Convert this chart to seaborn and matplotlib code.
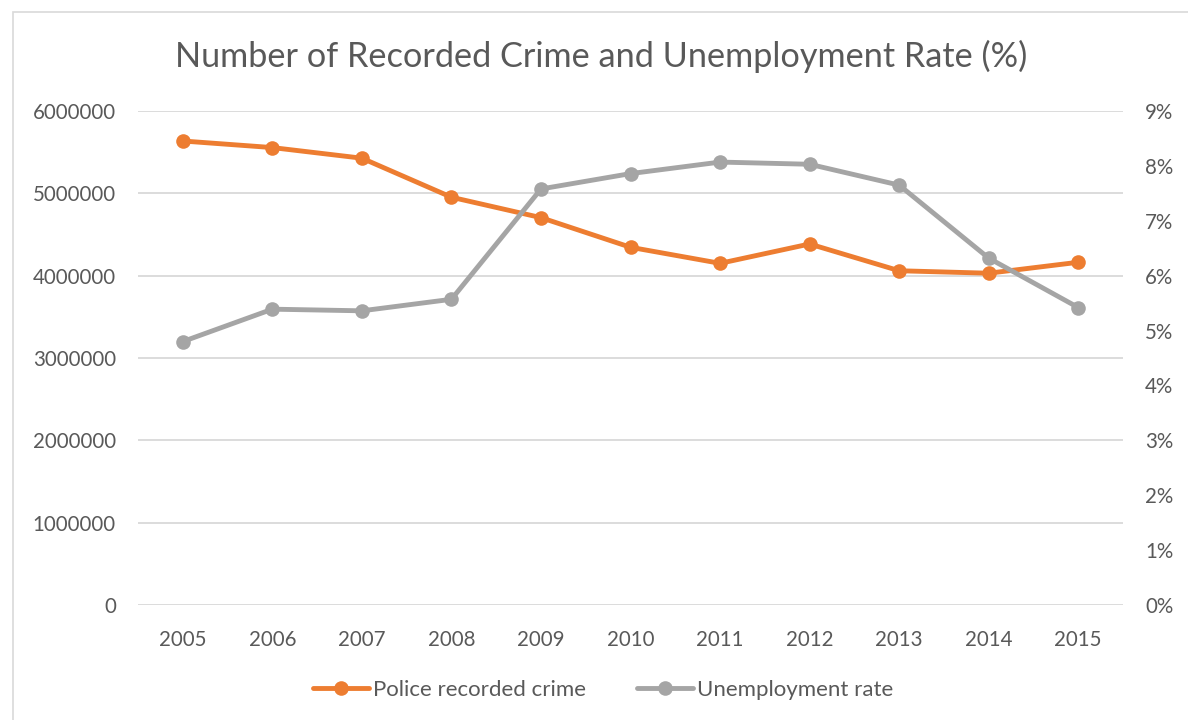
import seaborn as sns
import matplotlib.pyplot as plt
import matplotlib.ticker as mticker
from matplotlib.patches import Rectangle

years = [2005, 2006, 2007, 2008, 2009, 2010, 2011, 2012, 2013, 2014, 2015]
crime = [5636000, 5556000, 5427000, 4953000, 4705000, 4345000,
         4150000, 4385000, 4060000, 4030000, 4163000]
unemployment = [4.80, 5.39, 5.36, 5.57, 7.58, 7.86, 8.07, 8.03, 7.65, 6.32, 5.42]

orange = '#ED7D31'
grey = '#A5A5A5'
text_col = '#595959'

sns.set_theme(style='white')
plt.rcParams['font.family'] = ['Lato', 'DejaVu Sans']

fig = plt.figure(figsize=(11.88, 7.2), dpi=100)
ax = fig.add_axes([0.1162, 0.1597, 0.8291, 0.6861])
ax2 = ax.twinx()

sns.lineplot(x=years, y=crime, marker='o', color=orange, linewidth=3.5,
             markersize=10.5, markeredgewidth=0, ax=ax, label='Police recorded crime',
             legend=False)
sns.lineplot(x=years, y=[u / 100 for u in unemployment], marker='o', color=grey,
             linewidth=3.5, markersize=10.5, markeredgewidth=0, ax=ax2,
             label='Unemployment rate', legend=False)

ax.set_xlim(2004.5, 2015.5)
ax.set_ylim(0, 6000000)
ax2.set_ylim(0, 0.09)
ax.set_xticks(years)
ax.set_yticks(range(0, 6000001, 1000000))
ax2.set_yticks([i / 100 for i in range(10)])
ax.yaxis.set_major_formatter(mticker.FuncFormatter(lambda v, p: f'{int(v)}'))
ax2.yaxis.set_major_formatter(mticker.FuncFormatter(lambda v, p: f'{round(v * 100)}%'))

ax.grid(axis='y', color='#D9D9D9', linewidth=1.3)
ax.set_axisbelow(True)
for a in (ax, ax2):
    for s in a.spines.values():
        s.set_visible(False)
    a.tick_params(length=0, labelsize=14.8, labelcolor=text_col)
    a.set_xlabel('')
    a.set_ylabel('')
ax.tick_params(axis='y', pad=16)
ax2.tick_params(axis='y', pad=16)
ax.tick_params(axis='x', pad=18)

fig.text(0.506, 0.921, 'Number of Recorded Crime and Unemployment Rate (%)',
         ha='center', va='center', fontsize=24.7, color=text_col)

h1, l1 = ax.get_legend_handles_labels()
h2, l2 = ax2.get_legend_handles_labels()
fig.legend(h1 + h2, l1 + l2, loc='center', bbox_to_anchor=(0.508, 0.042), ncol=2,
           frameon=False, fontsize=16, labelcolor=text_col, handlelength=2.5,
           handletextpad=0.2, columnspacing=2.3)

fig.patches.append(Rectangle((13 / 1188, -0.1), 1.1, (708 / 720) + 0.1,
                             transform=fig.transFigure, fill=False,
                             edgecolor='#D9D9D9', linewidth=1.2))

fig.savefig('out.png', dpi=100)
